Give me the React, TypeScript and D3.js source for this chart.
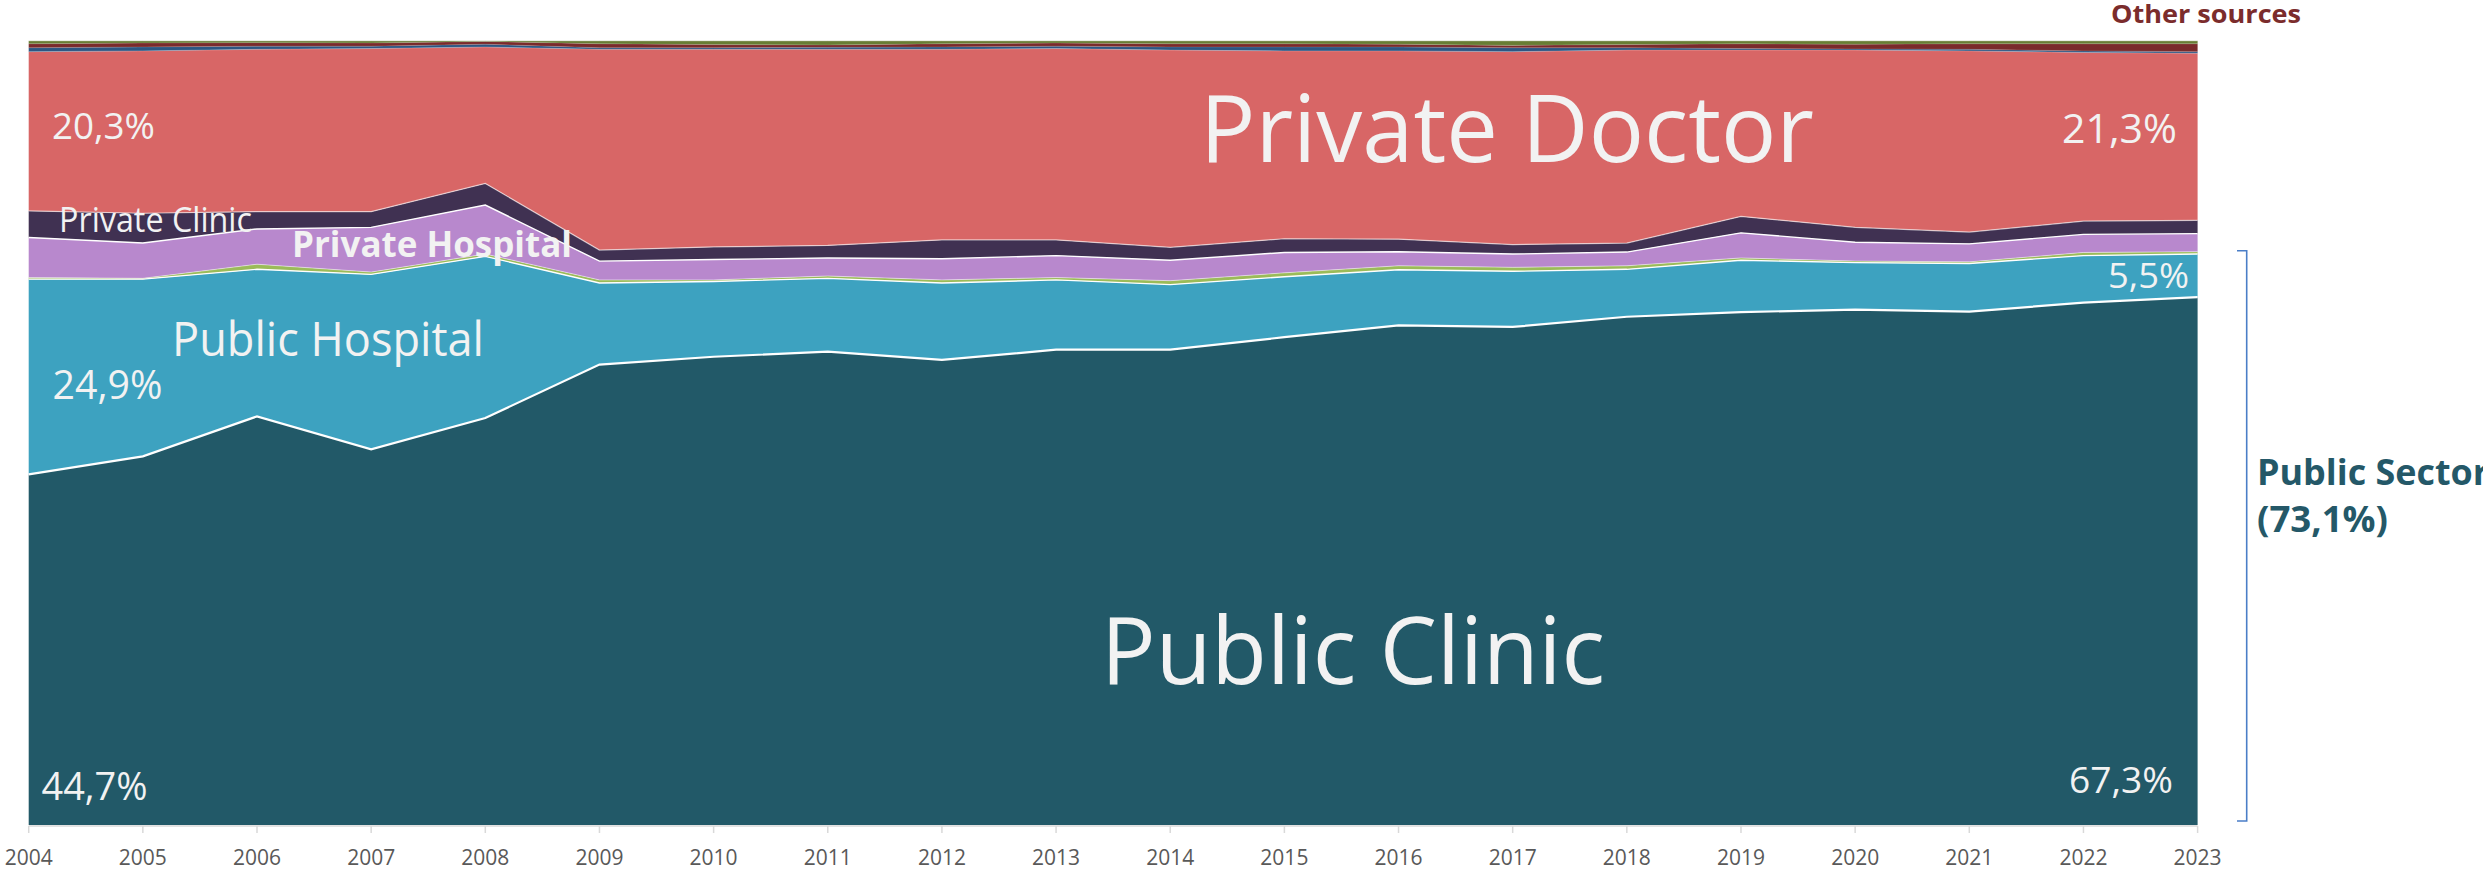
import React from "react";
import * as d3 from "d3";

const years = [2004, 2005, 2006, 2007, 2008, 2009, 2010, 2011, 2012, 2013, 2014, 2015, 2016, 2017, 2018, 2019, 2020, 2021, 2022, 2023];
const publicClinic = [44.7, 47.0, 52.1, 47.9, 51.9, 58.7, 59.7, 60.35, 59.3, 60.6, 60.6, 62.2, 63.7, 63.5, 64.8, 65.4, 65.7, 65.45, 66.6, 67.3];
const publicHospital = [24.9, 22.6, 18.75, 22.3, 20.6, 10.4, 9.6, 9.35, 9.8, 8.9, 8.3, 7.7, 7.1, 7.1, 6.05, 6.6, 6.0, 6.15, 6.0, 5.5];
const publicOther = [0.2, 0.1, 0.65, 0.3, 0.3, 0.4, 0.2, 0.3, 0.4, 0.3, 0.5, 0.5, 0.5, 0.5, 0.45, 0.3, 0.2, 0.2, 0.4, 0.3];
const privateHospital = [5.1, 4.5, 4.5, 5.7, 6.25, 2.4, 2.6, 2.3, 2.7, 2.8, 2.6, 2.6, 1.8, 1.7, 1.75, 3.2, 2.4, 2.3, 2.3, 2.3];
const privateClinic = [3.4, 3.8, 2.2, 2.0, 2.75, 1.4, 1.6, 1.6, 2.4, 2.0, 1.65, 1.75, 1.6, 1.2, 1.15, 2.1, 1.9, 1.5, 1.7, 1.7];
const privateDoctor = [20.3, 20.7, 20.7, 20.8, 17.4, 25.6, 25.2, 25.0, 24.3, 24.4, 25.15, 23.95, 24.0, 24.6, 24.6, 21.2, 22.6, 23.1, 21.5, 21.3];
const otherBlue = [0.5, 0.5, 0.4, 0.3, 0.35, 0.2, 0.2, 0.25, 0.3, 0.3, 0.4, 0.5, 0.5, 0.5, 0.3, 0.2, 0.15, 0.2, 0.2, 0.2];
const otherRed = [0.5, 0.5, 0.45, 0.4, 0.35, 0.5, 0.4, 0.3, 0.4, 0.4, 0.4, 0.4, 0.35, 0.3, 0.4, 0.6, 0.6, 0.7, 0.9, 1.0];
const otherGreen = [0.4, 0.3, 0.25, 0.3, 0.1, 0.4, 0.5, 0.55, 0.4, 0.3, 0.4, 0.4, 0.45, 0.6, 0.5, 0.4, 0.45, 0.4, 0.4, 0.4];

const seriesKeys = ["publicClinic", "publicHospital", "publicOther", "privateHospital", "privateClinic", "privateDoctor", "otherBlue", "otherRed", "otherGreen"];
const seriesValues: Record<string, number[]> = { publicClinic, publicHospital, publicOther, privateHospital, privateClinic, privateDoctor, otherBlue, otherRed, otherGreen };
const seriesColors: Record<string, string> = {
  publicClinic: "#225968",
  publicHospital: "#3DA2C0",
  publicOther: "#9BBB59",
  privateHospital: "#B888CD",
  privateClinic: "#403152",
  privateDoctor: "#D86666",
  otherBlue: "#2C5683",
  otherRed: "#7A2A2B",
  otherGreen: "#687D34",
};
const strokeW: Record<string, number> = {
  publicClinic: 2.2, publicHospital: 1.4, publicOther: 0.8, privateHospital: 1.4, privateClinic: 1.2,
  privateDoctor: 0.6, otherBlue: 0.5, otherRed: 0.5, otherGreen: 1.0,
};
const strokeO: Record<string, number> = {
  publicClinic: 1, publicHospital: 1, publicOther: 0.6, privateHospital: 1, privateClinic: 0.6,
  privateDoctor: 0.4, otherBlue: 0.3, otherRed: 0.3, otherGreen: 0.6,
};

const W = 2483, H = 872;
const X0 = 28.7, X1 = 2197.6, YB = 825, YT = 40.7;
const FONT = "'Open Sans', 'Noto Sans', sans-serif";
const LABEL = "#F2F2F2";

export default function App() {
  const rows = years.map((y, i) => {
    const r: any = { year: y };
    seriesKeys.forEach((k) => (r[k] = seriesValues[k][i]));
    return r;
  });
  const stack = d3.stack<any>().keys(seriesKeys).offset(d3.stackOffsetExpand);
  const layers = stack(rows);
  const x = d3.scaleLinear().domain([2004, 2023]).range([X0, X1]);
  const y = d3.scaleLinear().domain([0, 1]).range([YB, YT]);
  const area = d3.area<any>().x((d) => x(d.data.year)).y0((d) => y(d[0])).y1((d) => y(d[1]));
  const topLine = d3.line<any>().x((d) => x(d.data.year)).y((d) => y(d[1]));

  const txt = (s: string, xx: number, yy: number, fs: number, len: number | null, opts: any = {}) => (
    <text x={xx} y={yy} fontSize={fs} fontFamily={FONT} fill={opts.fill || LABEL} fontWeight={opts.bold ? 700 : 400}
      {...(len ? { textLength: len, lengthAdjust: "spacingAndGlyphs" } : {})}>{s}</text>
  );

  return (
    <svg width={W} height={H} style={{ position: "absolute", left: 0, top: 0, background: "#fff" }}>
      {layers.map((l) => (
        <path key={l.key} d={area(l) || ""} fill={seriesColors[l.key]} />
      ))}
      {layers.map((l) => (
        <path key={"s" + l.key} d={topLine(l) || ""} fill="none" stroke="#FFFFFF"
          strokeWidth={strokeW[l.key]} strokeOpacity={strokeO[l.key]} />
      ))}
      {/* x axis */}
      <line x1={X0} x2={X1} y1={YB + 1} y2={YB + 1} stroke="#D9D9D9" strokeWidth={1.5} />
      {years.map((yr) => (
        <g key={yr}>
          <line x1={x(yr)} x2={x(yr)} y1={YB + 1} y2={YB + 8} stroke="#D9D9D9" strokeWidth={1.5} />
          <text x={x(yr)} y={865} textAnchor="middle" fontSize={21} fontFamily={FONT} fill="#595959">{yr}</text>
        </g>
      ))}
      {/* labels */}
      {txt("Private Doctor", 1200, 162, 94, 614)}
      {txt("Public Clinic", 1101, 684, 94, 504)}
      {txt("Public Hospital", 172, 356, 47, 312)}
      {txt("Private Clinic", 59, 232, 34, 193)}
      {txt("Private Hospital", 292, 257, 35, 280, { bold: true })}
      {txt("20,3%", 52, 139, 37, 103)}
      {txt("21,3%", 2062, 143, 41, 115)}
      {txt("24,9%", 52.5, 399, 40, 110)}
      {txt("44,7%", 41.5, 800, 38, 106)}
      {txt("67,3%", 2069, 793, 36, 104)}
      {txt("5,5%", 2108, 288, 35, 81)}
      {txt("Other sources", 2111, 23, 25, 190, { bold: true, fill: "#7B2C2C" })}
      {/* bracket */}
      <path d={`M ${2237} ${250.7} H ${2246.7} V ${821} H ${2237}`} fill="none" stroke="#4A7EC7" strokeWidth={1.6} />
      {txt("Public Sector", 2257, 485, 35, 232, { bold: true, fill: "#245868" })}
      {txt("(73,1%)", 2257, 532, 35, 131, { bold: true, fill: "#245868" })}
    </svg>
  );
}
